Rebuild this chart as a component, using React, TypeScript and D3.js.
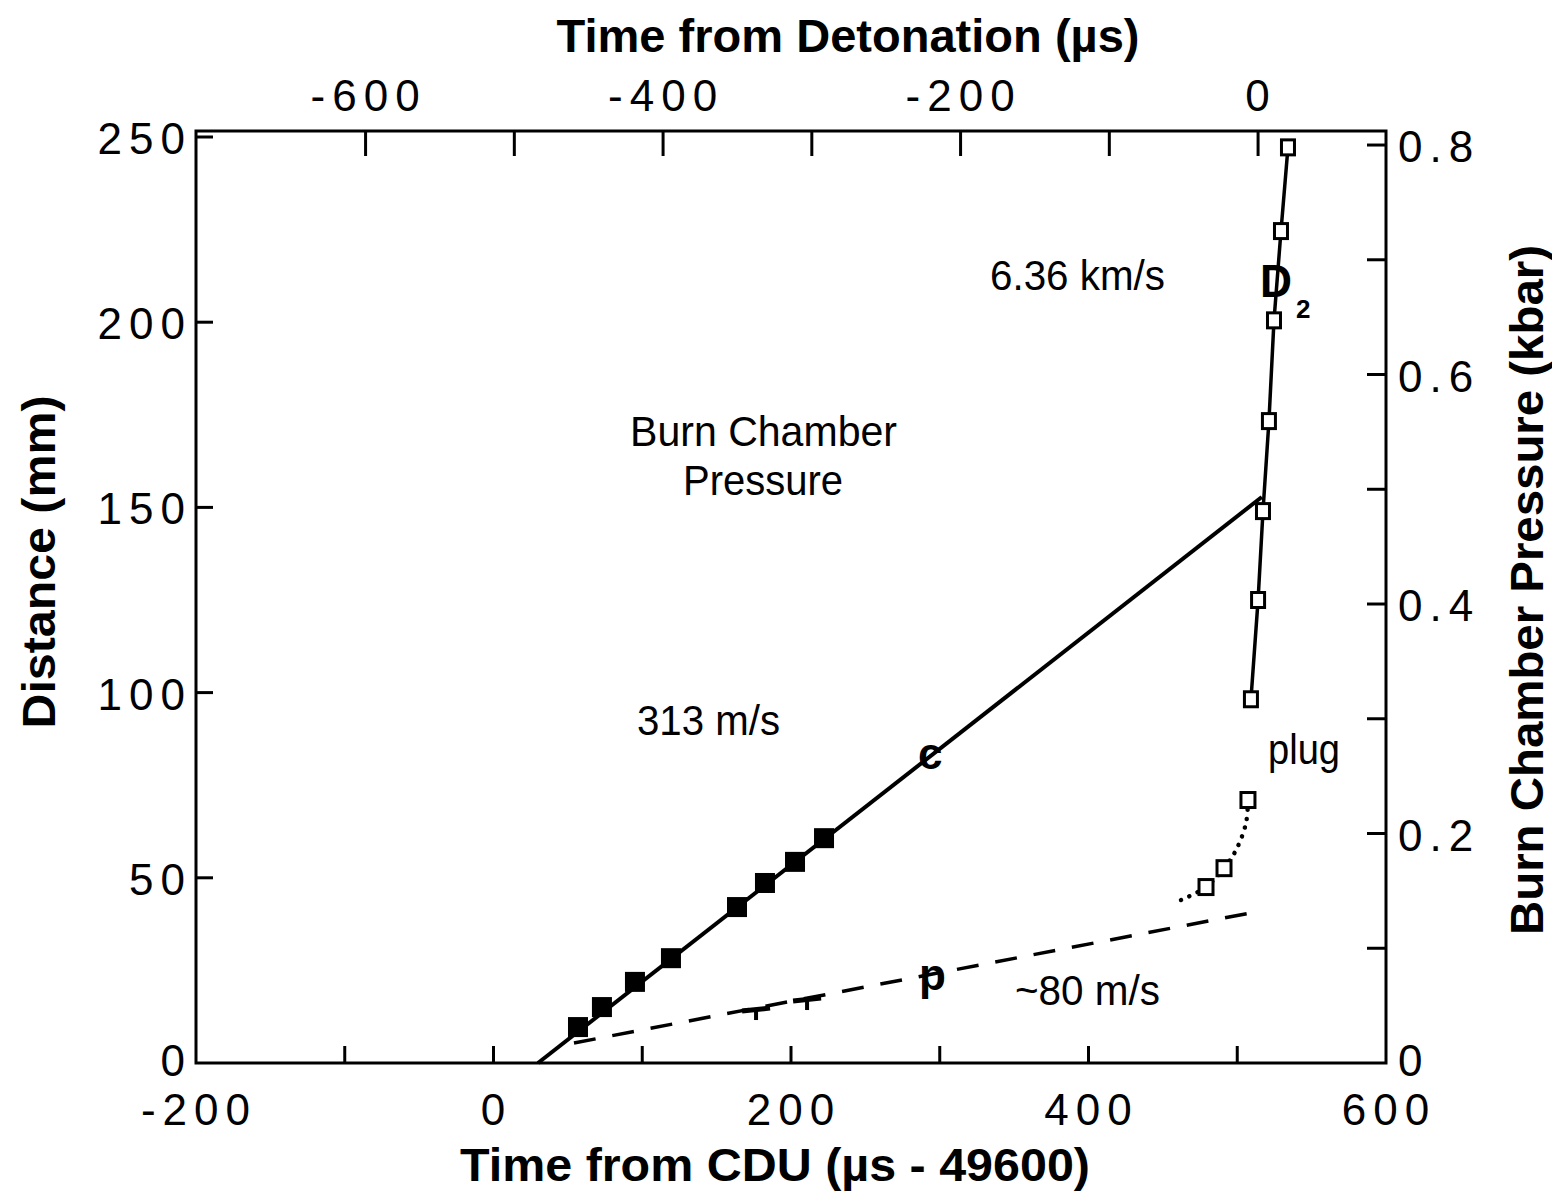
import React from "react";
import * as d3 from "d3";

// ---- axes ----
const X_DOMAIN = [-200, 600];
const Y_DOMAIN = [0, 250];
const P_DOMAIN = [0, 0.807];
const DETONATION_OFFSET = 514; // CDU time of detonation (µs)
const bottomTickLabels = [-200, 0, 200, 400, 600];
const bottomMinorTicks = [-100, 0, 100, 200, 300, 400, 500];
const topTickLabels = [-600, -400, -200, 0];
const topMinorTicks = [-600, -500, -400, -300, -200, -100, 0];
const leftTickLabels = [0, 50, 100, 150, 200, 250];
const rightTickLabels = [0, 0.2, 0.4, 0.6, 0.8];
const rightMinorTicks = [0.1, 0.2, 0.3, 0.4, 0.5, 0.6, 0.7, 0.8];

// ---- data (time from CDU µs, distance mm) ----
const cTime = [56.8, 72.9, 95.1, 119.3, 163.7, 182.5, 202.7, 222.2];
const cDist = [9.7, 15.1, 21.9, 28.3, 42.1, 48.6, 54.3, 60.7];
const cFitTime = [29.9, 516.5];
const cFitDist = [0, 152.8];

const pFitTime = [54.1, 512.6];
const pFitDist = [5.4, 40.8];
const pMarkTime = [176.5, 210.8];
const pMarkDist = [14.3, 17.0];

const d2Time = [509.2, 514.0, 517.3, 521.3, 524.7, 529.4, 534.1];
const d2Dist = [98.2, 125.0, 149.0, 173.3, 200.5, 224.6, 247.2];

const plugTime = [479.0, 491.1, 507.2];
const plugDist = [47.5, 52.6, 71.0];
const plugCurveTime = [462.2, 479.0, 491.1, 499.2, 505.9, 507.2];
const plugCurveDist = [44.0, 47.5, 52.6, 57.5, 64.8, 71.0];

const L = 196, R = 1386, T = 137, B = 1063;

export default function App() {
  const x = d3.scaleLinear().domain(X_DOMAIN).range([L, R]);
  const xTop = d3
    .scaleLinear()
    .domain([X_DOMAIN[0] - DETONATION_OFFSET, X_DOMAIN[1] - DETONATION_OFFSET])
    .range([L, R]);
  const y = d3.scaleLinear().domain(Y_DOMAIN).range([B, T]);
  const yR = d3.scaleLinear().domain(P_DOMAIN).range([B, T]);

  const line = d3
    .line<[number, number]>()
    .x((d) => x(d[0]))
    .y((d) => y(d[1]));
  const curve = d3
    .line<[number, number]>()
    .x((d) => x(d[0]))
    .y((d) => y(d[1]))
    .curve(d3.curveCatmullRom.alpha(0.5));

  const zip = (a: number[], b: number[]) => a.map((v, i) => [v, b[i]] as [number, number]);

  const tickFont = {
    fontFamily: "'Liberation Sans', Arial, sans-serif",
    fontSize: 44,
    letterSpacing: 7,
  } as const;
  const boldFont = "'Liberation Sans', Arial, sans-serif";
  const tickLen = 17;

  const fmtR = (v: number) => (v === 0 ? "0" : v.toFixed(1));

  return (
    <svg
      width={1552}
      height={1194}
      style={{ position: "absolute", left: 0, top: 0, background: "#fff" }}
    >
      <rect x={0} y={0} width={1552} height={1194} fill="#fff" />
      {/* frame */}
      <rect x={L} y={T - 6} width={R - L} height={B - T + 6} fill="none" stroke="#000" strokeWidth={3} />

      {/* bottom ticks */}
      {bottomMinorTicks.map((t) => (
        <line key={"bt" + t} x1={x(t)} x2={x(t)} y1={B} y2={B - tickLen} stroke="#000" strokeWidth={3} />
      ))}
      {bottomTickLabels.map((t) => (
        <text key={"bl" + t} x={x(t) + 3} y={1125} textAnchor="middle" {...tickFont}>
          {t}
        </text>
      ))}
      {/* top ticks */}
      {topMinorTicks.map((t) => (
        <line key={"tt" + t} x1={xTop(t)} x2={xTop(t)} y1={T - 6} y2={T - 6 + tickLen + 8} stroke="#000" strokeWidth={3} />
      ))}
      {topTickLabels.map((t) => (
        <text key={"tl" + t} x={xTop(t) + 3} y={111} textAnchor="middle" {...tickFont}>
          {t}
        </text>
      ))}
      {/* left ticks */}
      {leftTickLabels.map((t) => (
        <g key={"ll" + t}>
          {t > 0 && <line x1={L} x2={L + tickLen} y1={y(t)} y2={y(t)} stroke="#000" strokeWidth={3} />}
          <text x={L - 4} y={y(t) + (t === 0 ? 13 : 17)} textAnchor="end" {...tickFont}>
            {t}
          </text>
        </g>
      ))}
      {/* right ticks */}
      {rightMinorTicks.map((t) => (
        <line key={"rt" + t} x1={R} x2={R - tickLen - 2} y1={yR(t)} y2={yR(t)} stroke="#000" strokeWidth={3} />
      ))}
      {rightTickLabels.map((t) => (
        <text key={"rl" + t} x={R + 12} y={yR(t) + (t === 0 ? 13 : 17)} textAnchor="start" {...tickFont}>
          {fmtR(t)}
        </text>
      ))}

      {/* axis titles */}
      <text x={848} y={52} textAnchor="middle" fontFamily={boldFont} fontWeight="bold" fontSize={46} textLength={583} lengthAdjust="spacingAndGlyphs">
        Time from Detonation (µs)
      </text>
      <text x={775} y={1181} textAnchor="middle" fontFamily={boldFont} fontWeight="bold" fontSize={46} textLength={630} lengthAdjust="spacingAndGlyphs">
        Time from CDU (µs - 49600)
      </text>
      <text transform="translate(55,562) rotate(-90)" textAnchor="middle" fontFamily={boldFont} fontWeight="bold" fontSize={46} textLength={333} lengthAdjust="spacingAndGlyphs">
        Distance (mm)
      </text>
      <text transform="translate(1543,590) rotate(-90)" textAnchor="middle" fontFamily={boldFont} fontWeight="bold" fontSize={46} textLength={690} lengthAdjust="spacingAndGlyphs">
        Burn Chamber Pressure (kbar)
      </text>

      {/* fit lines */}
      <path d={line(zip(cFitTime, cFitDist)) || ""} fill="none" stroke="#000" strokeWidth={4} />
      <path d={line(zip(pFitTime, pFitDist)) || ""} fill="none" stroke="#000" strokeWidth={3.5} strokeDasharray="22 17" />
      <path d={line(zip(d2Time, d2Dist)) || ""} fill="none" stroke="#000" strokeWidth={3.5} />
      <path
        d={curve(zip(plugCurveTime, plugCurveDist)) || ""}
        fill="none"
        stroke="#000"
        strokeWidth={4.5}
        strokeDasharray="0.1 9"
        strokeLinecap="round"
      />

      {/* c points: filled squares */}
      {cTime.map((t, i) => (
        <rect key={"c" + i} x={x(t) - 10} y={y(cDist[i]) - 10} width={20} height={20} fill="#000" />
      ))}
      {/* p markers */}
      {pMarkTime.map((t, i) => (
        <g key={"p" + i}>
          <line x1={x(t) - 14} x2={x(t) + 14} y1={y(pMarkDist[i]) + 1} y2={y(pMarkDist[i]) - 2} stroke="#000" strokeWidth={5} />
          <line x1={x(t)} x2={x(t)} y1={y(pMarkDist[i])} y2={y(pMarkDist[i]) + 10} stroke="#000" strokeWidth={4} />
        </g>
      ))}
      {/* D2 points: open squares */}
      {d2Time.map((t, i) => (
        <rect key={"d" + i} x={x(t) - 6.5} y={y(d2Dist[i]) - 7.5} width={13} height={15} fill="#fff" stroke="#000" strokeWidth={3} />
      ))}
      {/* plug points */}
      {plugTime.map((t, i) => (
        <rect key={"g" + i} x={x(t) - 7} y={y(plugDist[i]) - 7.5} width={14} height={15} fill="#fff" stroke="#000" strokeWidth={3} />
      ))}

      {/* annotations */}
      <g fontFamily="'Liberation Sans', Arial, sans-serif" fontSize={42}>
        <text x={990} y={290} textLength={175} lengthAdjust="spacingAndGlyphs">6.36 km/s</text>
        <text x={630} y={446} textLength={267} lengthAdjust="spacingAndGlyphs">Burn Chamber</text>
        <text x={683} y={495} textLength={160} lengthAdjust="spacingAndGlyphs">Pressure</text>
        <text x={637} y={735} textLength={143} lengthAdjust="spacingAndGlyphs">313 m/s</text>
        <text x={1015} y={1005} textLength={145} lengthAdjust="spacingAndGlyphs">~80 m/s</text>
        <text x={1268} y={764} textLength={72} lengthAdjust="spacingAndGlyphs">plug</text>
      </g>
      <g fontFamily={boldFont} fontWeight="bold">
        <text x={918} y={769} fontSize={44}>c</text>
        <text x={919} y={990} fontSize={44}>p</text>
        <text x={1260} y={297} fontSize={46} textLength={32} lengthAdjust="spacingAndGlyphs">D</text>
        <text x={1296} y={318} fontSize={26}>2</text>
      </g>
    </svg>
  );
}
